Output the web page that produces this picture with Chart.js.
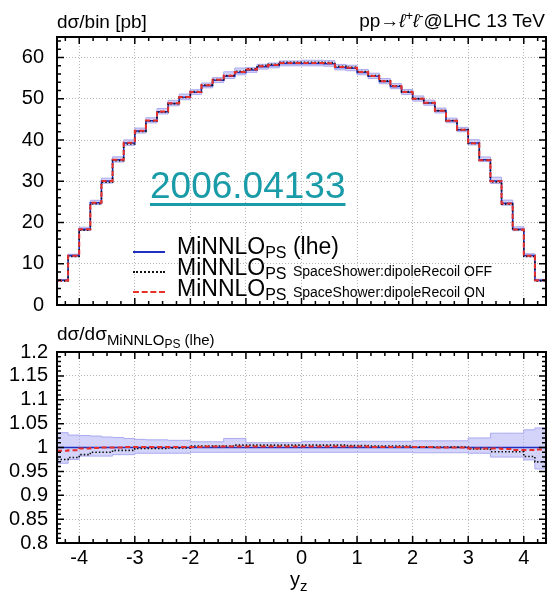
<!DOCTYPE html>
<html>
<head>
<meta charset="utf-8">
<script src="https://cdn.jsdelivr.net/npm/chart.js@4.4.0/dist/chart.umd.min.js"></script>
<style>
  body { margin: 0; width: 548px; height: 594px; position: relative; background: #fff; overflow: hidden;
         font-family: "Liberation Sans", Arial, sans-serif; color: #000; }
  canvas { position: absolute; left: 0; }
  #top { top: 0; }
  #bot { top: 330px; }
  .t { position: absolute; white-space: nowrap; line-height: 1; }
  .s { position: relative; }
  .ln { position: absolute; width: 32px; height: 0; }
</style>
</head>
<body>
<canvas id="top" width="548" height="330"></canvas>
<canvas id="bot" width="548" height="264"></canvas>

<div class="t" style="left:57px;top:12px;font-size:19px">dσ/bin [pb]</div>
<div class="t" style="right:3px;top:11px;font-size:19px">pp→<i>ℓ</i><span class="s" style="top:-7px;font-size:13px">+</span><i>ℓ</i><span class="s" style="top:-7px;font-size:13px">-</span>@LHC 13 TeV</div>
<div class="t" style="left:150px;top:167px;font-size:37px;color:#1a9ba8;text-decoration:underline;text-decoration-thickness:3px;text-underline-offset:5px">2006.04133</div>

<div class="ln" style="left:133px;top:251px;height:2px;background:#1f2fc0"></div>
<div class="ln" style="left:133px;top:271px;border-top:2px dotted #111"></div>
<div class="ln" style="left:133px;top:291px;border-top:2px dashed #e8302a"></div>
<div class="t" style="left:177px;top:235px;font-size:23px">MiNNLO<span class="s" style="top:4px;font-size:16px">PS</span> (lhe)</div>
<div class="t" style="left:177px;top:256px;font-size:23px">MiNNLO<span class="s" style="top:4px;font-size:16px">PS</span> <span class="s" style="top:1px;font-size:14px">SpaceShower:dipoleRecoil OFF</span></div>
<div class="t" style="left:177px;top:277px;font-size:23px">MiNNLO<span class="s" style="top:4px;font-size:16px">PS</span> <span class="s" style="top:1px;font-size:14px">SpaceShower:dipoleRecoil ON</span></div>

<div class="t" style="left:57px;top:324px;font-size:19px">dσ/dσ<span class="s" style="top:5px;font-size:15px">MiNNLO<span class="s" style="top:3px;font-size:12px">PS</span> (lhe)</span></div>
<div class="t" style="left:290px;top:569px;font-size:20px">y<span class="s" style="top:5px;font-size:15px">z</span></div>

<script>
// bin edges in y_Z
const binEdges = [-4.4, -4.2, -4.0, -3.8, -3.6, -3.4, -3.2, -3.0, -2.8, -2.6, -2.4, -2.2, -2.0,
  -1.8, -1.6, -1.4, -1.2, -1.0, -0.8, -0.6, -0.4, -0.2, 0.0, 0.2, 0.4, 0.6, 0.8, 1.0, 1.2,
  1.4, 1.6, 1.8, 2.0, 2.2, 2.4, 2.6, 2.8, 3.0, 3.2, 3.4, 3.6, 3.8, 4.0, 4.2, 4.4];

// dσ/bin [pb], MiNNLO_PS (lhe)
const lhe = [6.0, 12.0, 18.4, 24.8, 30.1, 35.2, 39.3, 42.2, 44.7, 46.9, 48.9, 50.4, 51.6,
  53.2, 54.5, 55.5, 56.4, 57.0, 57.8, 58.1, 58.6, 58.6, 58.6, 58.6, 58.5, 57.6, 57.4, 56.4,
  55.5, 54.2, 53.0, 51.6, 50.0, 49.0, 47.1, 44.7, 42.5, 39.3, 35.2, 30.1, 24.7, 18.4, 12.0, 6.0];

// ratios to lhe
const ratioOff = [0.975, 0.979, 0.985, 0.990, 0.990, 0.994, 0.994, 0.998, 0.998, 0.998, 0.999,
  0.999, 1.003, 1.003, 1.003, 1.003, 1.005, 1.005, 1.005, 1.005, 1.005, 1.005, 1.005, 1.005,
  1.005, 1.005, 1.004, 1.004, 1.003, 1.003, 1.003, 1.003, 1.001, 1.001, 1.001, 1.001, 1.001,
  0.997, 0.997, 0.991, 0.991, 0.991, 0.981, 0.970];
const ratioOn = [0.993, 0.994, 0.998, 0.999, 1.000, 1.000, 1.001, 1.001, 1.001, 1.001, 1.001,
  1.001, 1.001, 1.002, 1.002, 1.002, 1.002, 1.002, 1.002, 1.002, 1.002, 1.002, 1.002, 1.002,
  1.002, 1.002, 1.002, 1.002, 1.001, 1.001, 1.001, 1.001, 1.001, 1.001, 1.000, 1.000, 1.000,
  0.998, 0.998, 0.998, 0.997, 0.995, 0.995, 0.996];
const bandUp = [1.031, 1.026, 1.025, 1.024, 1.022, 1.021, 1.019, 1.017, 1.016, 1.016, 1.015,
  1.015, 1.012, 1.012, 1.012, 1.019, 1.019, 1.010, 1.010, 1.010, 1.010, 1.010, 1.013, 1.013,
  1.013, 1.013, 1.013, 1.013, 1.013, 1.013, 1.013, 1.013, 1.014, 1.014, 1.014, 1.014, 1.014,
  1.020, 1.020, 1.030, 1.030, 1.030, 1.037, 1.041];
const bandLo = [0.967, 0.975, 0.982, 0.982, 0.982, 0.985, 0.985, 0.988, 0.988, 0.988, 0.988,
  0.988, 0.990, 0.990, 0.990, 0.990, 0.990, 0.990, 0.990, 0.990, 0.990, 0.990, 0.990, 0.990,
  0.990, 0.990, 0.990, 0.990, 0.990, 0.990, 0.990, 0.990, 0.989, 0.989, 0.989, 0.989, 0.989,
  0.988, 0.988, 0.980, 0.980, 0.980, 0.974, 0.955];

const xTicks = [-4, -3, -2, -1, 0, 1, 2, 3, 4];
const font = 'Liberation Sans';

// histogram points: left edges + closing right edge
function hist(vals) {
  const pts = vals.map((v, i) => ({x: binEdges[i], y: v}));
  pts.push({x: binEdges[binEdges.length - 1], y: vals[vals.length - 1]});
  return pts;
}
const times = (a, b) => a.map((v, i) => v * b[i]);

const frameTicks = {
  id: 'frameTicks',
  afterDatasetsDraw(chart, args, o) {
    const {ctx, chartArea: a} = chart;
    const sx = chart.scales.x, sy = chart.scales.y;
    ctx.save();
    ctx.strokeStyle = '#000';
    ctx.lineWidth = 1.5;
    ctx.beginPath();
    for (let i = Math.ceil(sx.min / o.xMinor - 1e-6); i * o.xMinor <= sx.max + 1e-6; i++) {
      const v = i * o.xMinor;
      const px = sx.getPixelForValue(v);
      const len = Math.abs(v - Math.round(v)) < 1e-6 ? 7 : 4;
      ctx.moveTo(px, a.bottom); ctx.lineTo(px, a.bottom - len);
      ctx.moveTo(px, a.top); ctx.lineTo(px, a.top + len);
    }
    for (let i = Math.ceil(sy.min / o.yMinor - 1e-6); i * o.yMinor <= sy.max + 1e-6; i++) {
      const v = i * o.yMinor;
      const py = sy.getPixelForValue(v);
      const r = v / o.yMajor;
      const len = Math.abs(r - Math.round(r)) < 1e-6 ? 7 : 4;
      ctx.moveTo(a.left, py); ctx.lineTo(a.left + len, py);
      ctx.moveTo(a.right, py); ctx.lineTo(a.right - len, py);
    }
    ctx.stroke();
    ctx.lineWidth = 2;
    ctx.strokeRect(a.left, a.top, a.right - a.left, a.bottom - a.top);
    ctx.restore();
  }
};

function datasets(up, lo, off, on, base) {
  return [
    {data: hist(on), borderColor: '#e8302a', borderWidth: 2, borderDash: [5, 3], order: 0},
    {data: hist(off), borderColor: '#111', borderWidth: 1.6, borderDash: [1.5, 2], order: 1},
    {data: hist(base), borderColor: '#1f2fc0', borderWidth: 1.5, order: 2},
    {data: hist(up), borderColor: '#aaaaf0', borderWidth: 1, backgroundColor: 'rgba(170,170,245,0.5)', fill: '+1', order: 3},
    {data: hist(lo), borderColor: '#aaaaf0', borderWidth: 1, fill: false, order: 4}
  ].map(d => Object.assign({stepped: 'before', pointRadius: 0, fill: d.fill || false}, d));
}

function xScale(showLabels, h) {
  return {
    type: 'linear', min: -4.4, max: 4.4,
    afterBuildTicks(s) { s.ticks = xTicks.map(v => ({value: v})); },
    ticks: {display: showLabels, autoSkip: false, color: '#000', font: {family: font, size: 20}, padding: 3,
            callback: v => String(v)},
    grid: {color: '#b5b5b5', drawTicks: false},
    border: {display: false, dash: [1, 2]},
    afterFit(s) { s.height = h; }
  };
}

new Chart(document.getElementById('top'), {
  type: 'line',
  data: {datasets: datasets(times(lhe, bandUp), times(lhe, bandLo), times(lhe, ratioOff), times(lhe, ratioOn), lhe)},
  options: {
    responsive: false, animation: false,
    layout: {padding: {top: 37, right: 2, left: 0, bottom: 0}},
    plugins: {legend: {display: false}, tooltip: {enabled: false},
              frameTicks: {xMinor: 0.25, yMinor: 2, yMajor: 10}},
    scales: {
      x: xScale(false, 10),
      y: {
        min: 0, max: 65,
        ticks: {stepSize: 10, includeBounds: false, autoSkip: false, color: '#000', font: {family: font, size: 20}, padding: 13},
        grid: {color: '#b5b5b5', drawTicks: false},
        border: {display: false, dash: [1, 2]},
        afterFit(s) { s.width = 57; }
      }
    }
  },
  plugins: [frameTicks]
});

const ones = lhe.map((v, i) => v / lhe[i]);
new Chart(document.getElementById('bot'), {
  type: 'line',
  data: {datasets: datasets(bandUp, bandLo, ratioOff, ratioOn, ones)},
  options: {
    responsive: false, animation: false,
    layout: {padding: {top: 22, right: 2, left: 0, bottom: 0}},
    plugins: {legend: {display: false}, tooltip: {enabled: false},
              frameTicks: {xMinor: 0.25, yMinor: 0.01, yMajor: 0.05}},
    scales: {
      x: xScale(true, 51),
      y: {
        min: 0.8, max: 1.2,
        ticks: {stepSize: 0.05, includeBounds: false, autoSkip: false, color: '#000', font: {family: font, size: 20}, padding: 9,
                callback: v => String(Math.round(v * 100) / 100)},
        grid: {color: '#b5b5b5', drawTicks: false},
        border: {display: false, dash: [1, 2]},
        afterFit(s) { s.width = 57; }
      }
    }
  },
  plugins: [frameTicks]
});
</script>
</body>
</html>
